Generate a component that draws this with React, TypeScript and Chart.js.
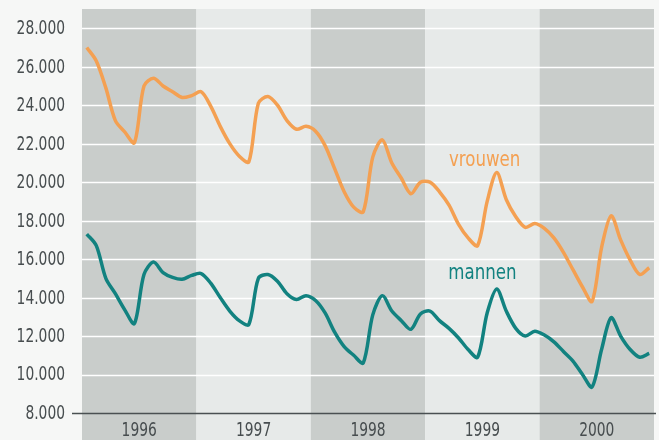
import { useEffect, useRef } from 'react';
import { Chart, registerables } from 'chart.js';

Chart.register(...registerables);

const YEARS = [1996, 1997, 1998, 1999, 2000];
const Y_TICKS = [8000, 10000, 12000, 14000, 16000, 18000, 20000, 22000, 24000, 26000, 28000];

// monthly values, Jan 1996 .. Dec 2000
const VROUWEN = [
  27000, 26300, 24900, 23200, 22600, 22050, 25000, 25400, 25000, 24700, 24400, 24500,
  24700, 23950, 22900, 22000, 21350, 21050, 24100, 24450, 24000, 23200, 22750, 22900,
  22650, 21900, 20700, 19500, 18700, 18450, 21300, 22200, 21000, 20200, 19400, 20000,
  20000, 19500, 18800, 17800, 17100, 16700, 19000, 20500, 19100, 18200, 17650, 17850,
  17600, 17100, 16350, 15450, 14550, 13800, 16600, 18250, 17000, 15950, 15200, 15550,
];
const MANNEN = [
  17300, 16700, 15000, 14200, 13350, 12650, 15200, 15850, 15300, 15050, 14950, 15150,
  15250, 14750, 14000, 13300, 12800, 12600, 15000, 15200, 14850, 14200, 13900, 14100,
  13850, 13200, 12200, 11450, 11000, 10600, 13100, 14100, 13300, 12800, 12350, 13150,
  13300, 12800, 12400, 11900, 11300, 10900, 13200, 14450, 13300, 12400, 12000, 12250,
  12050, 11700, 11200, 10700, 10000, 9350, 11300, 12950, 12000, 11300, 10900, 11100,
];

const ORANGE = '#f4a052';
const TEAL = '#128280';
const TEXT = '#474d4f';
const FONT = "'DejaVu Sans Condensed', 'DejaVu Sans', sans-serif";

const toPoints = (arr: number[]) =>
  arr.map((v, i) => ({ x: YEARS[0] + (i + 0.5) / 12, y: v }));

const fmtY = (v: number) => `${Math.round(v / 1000)}.000`;

function narrowText(ctx: any, text: string, x: number, y: number, align: string, sx: number) {
  ctx.save();
  ctx.translate(x, y);
  ctx.scale(sx, 1);
  ctx.textAlign = align;
  ctx.fillText(text, 0, 0);
  ctx.restore();
}

const bandsPlugin = {
  id: 'bands',
  beforeDraw(chart: any) {
    const { ctx, chartArea, scales } = chart;
    const xs = scales.x;
    const ys = scales.y;
    ctx.save();
    ctx.fillStyle = '#f6f7f6';
    ctx.fillRect(0, 0, chart.width, chart.height);
    YEARS.forEach((yr, i) => {
      const x0 = xs.getPixelForValue(yr);
      const x1 = xs.getPixelForValue(yr + 1);
      ctx.fillStyle = i % 2 === 0 ? '#c9cdcb' : '#e7eae9';
      ctx.fillRect(x0, chartArea.top, x1 - x0, chart.height - chartArea.top);
    });
    ctx.strokeStyle = '#ffffff';
    ctx.lineWidth = 1.6;
    Y_TICKS.forEach((v) => {
      if (v === Y_TICKS[0]) return;
      const y = Math.round(ys.getPixelForValue(v)) + 0.5;
      ctx.beginPath();
      ctx.moveTo(chartArea.left, y);
      ctx.lineTo(chartArea.right, y);
      ctx.stroke();
    });
    ctx.restore();
  },
  afterDatasetsDraw(chart: any) {
    const { ctx, scales } = chart;
    const xs = scales.x;
    const ys = scales.y;
    ctx.save();
    const y0 = Math.round(ys.getPixelForValue(Y_TICKS[0])) + 0.5;
    ctx.strokeStyle = '#4a5052';
    ctx.lineWidth = 1.5;
    ctx.beginPath();
    ctx.moveTo(72, y0);
    ctx.lineTo(656, y0);
    ctx.stroke();

    // y tick labels
    ctx.font = `19px ${FONT}`;
    ctx.textBaseline = 'middle';
    ctx.fillStyle = TEXT;
    ys.ticks.forEach((t: any) => {
      narrowText(ctx, fmtY(t.value), ys.right - 17, ys.getPixelForValue(t.value) + 1, 'right', 0.81);
    });
    // x tick labels
    xs.ticks.forEach((t: any) => {
      narrowText(ctx, String(Math.floor(t.value)), xs.getPixelForValue(t.value), 431, 'center', 0.81);
    });

    ctx.font = `22px ${FONT}`;
    ctx.fillStyle = ORANGE;
    narrowText(ctx, 'vrouwen', xs.getPixelForValue(1999.52), ys.getPixelForValue(21150), 'center', 0.84);
    ctx.fillStyle = TEAL;
    narrowText(ctx, 'mannen', xs.getPixelForValue(1999.5), ys.getPixelForValue(15250), 'center', 0.84);
    ctx.restore();
  },
};

export default function App() {
  const ref = useRef<HTMLCanvasElement>(null);
  useEffect(() => {
    document.body.style.margin = '0';
    const canvas = ref.current;
    if (!canvas) return;
    const chart = new Chart(canvas, {
      type: 'line',
      data: {
        datasets: [
          {
            label: 'vrouwen',
            data: toPoints(VROUWEN),
            borderColor: ORANGE,
            borderWidth: 3.5,
            pointRadius: 0,
            tension: 0.3,
            fill: false,
          },
          {
            label: 'mannen',
            data: toPoints(MANNEN),
            borderColor: TEAL,
            borderWidth: 3.5,
            pointRadius: 0,
            tension: 0.3,
            fill: false,
          },
        ],
      },
      options: {
        animation: false,
        responsive: true,
        maintainAspectRatio: false,
        layout: { padding: { top: 9, right: 5, left: 0, bottom: 0 } },
        plugins: { legend: { display: false }, tooltip: { enabled: false } },
        scales: {
          x: {
            type: 'linear',
            min: 1996,
            max: 2001,
            grid: { display: false, drawTicks: false },
            border: { display: false },
            afterBuildTicks: (s: any) => {
              s.ticks = YEARS.map((y) => ({ value: y + 0.5 }));
            },
            afterFit: (s: any) => {
              s.height = 27;
              s.paddingLeft = 0;
              s.paddingRight = 0;
            },
            ticks: { display: false },
          },
          y: {
            type: 'linear',
            min: 8000,
            max: 29000,
            grid: { display: false, drawTicks: false },
            border: { display: false },
            afterBuildTicks: (s: any) => {
              s.ticks = Y_TICKS.map((v) => ({ value: v }));
            },
            afterFit: (s: any) => {
              s.width = 82;
              s.paddingTop = 0;
              s.paddingBottom = 0;
            },
            ticks: { display: false },
          },
        },
      },
      plugins: [bandsPlugin],
    });
    return () => chart.destroy();
  }, []);
  return (
    <div style={{ width: 659, height: 440, position: 'relative' }}>
      <canvas ref={ref} />
    </div>
  );
}
